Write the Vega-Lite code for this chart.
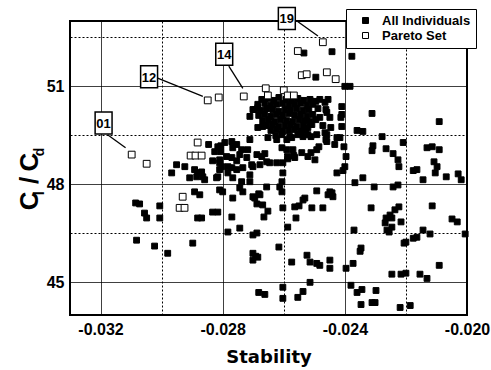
{
  "$schema": "https://vega.github.io/schema/vega-lite/v6.json",
  "width": 397,
  "height": 294,
  "autosize": {"type": "none"},
  "padding": {"left": 70, "top": 21, "right": 24, "bottom": 55},
  "background": "white",
  "datasets": {
    "all": [
      {"stability":-0.02534,"cl_cd":52.02},{"stability":-0.02442,"cl_cd":52.06},{"stability":-0.02377,"cl_cd":51.92},{"stability":-0.02495,"cl_cd":51.28},{"stability":-0.02400,"cl_cd":51.00},{"stability":-0.02383,"cl_cd":51.00},
      {"stability":-0.02311,"cl_cd":50.17},{"stability":-0.02091,"cl_cd":49.92},{"stability":-0.02410,"cl_cd":50.38},{"stability":-0.02410,"cl_cd":50.14},{"stability":-0.02410,"cl_cd":49.77},{"stability":-0.02360,"cl_cd":49.65},{"stability":-0.02341,"cl_cd":49.62},{"stability":-0.02278,"cl_cd":49.46},{"stability":-0.02209,"cl_cd":49.28},{"stability":-0.02416,"cl_cd":49.43},{"stability":-0.02308,"cl_cd":49.18},{"stability":-0.02311,"cl_cd":49.03},{"stability":-0.02265,"cl_cd":49.09},{"stability":-0.02242,"cl_cd":48.94},{"stability":-0.02226,"cl_cd":48.75},{"stability":-0.02223,"cl_cd":48.54},{"stability":-0.02176,"cl_cd":48.42},{"stability":-0.02131,"cl_cd":49.12},{"stability":-0.02114,"cl_cd":49.15},{"stability":-0.02091,"cl_cd":49.06},{"stability":-0.02108,"cl_cd":48.69},{"stability":-0.02098,"cl_cd":48.54},{"stability":-0.02104,"cl_cd":48.35},{"stability":-0.02068,"cl_cd":48.23},{"stability":-0.02029,"cl_cd":48.32},{"stability":-0.02019,"cl_cd":48.14},{"stability":-0.02403,"cl_cd":49.15},{"stability":-0.02396,"cl_cd":48.85},{"stability":-0.02400,"cl_cd":48.54},{"stability":-0.02406,"cl_cd":48.42},{"stability":-0.02426,"cl_cd":48.35},{"stability":-0.02341,"cl_cd":48.20},{"stability":-0.02164,"cl_cd":48.45},{"stability":-0.02144,"cl_cd":48.14},{"stability":-0.02367,"cl_cd":48.05},{"stability":-0.02304,"cl_cd":47.92},{"stability":-0.02242,"cl_cd":47.92},{"stability":-0.02226,"cl_cd":47.98},{"stability":-0.02442,"cl_cd":47.74},{"stability":-0.02439,"cl_cd":47.62},{"stability":-0.02314,"cl_cd":47.28},{"stability":-0.02223,"cl_cd":47.31},{"stability":-0.02236,"cl_cd":47.22},{"stability":-0.02252,"cl_cd":47.06},{"stability":-0.02265,"cl_cd":46.97},{"stability":-0.02246,"cl_cd":46.97},{"stability":-0.02268,"cl_cd":46.82},{"stability":-0.02246,"cl_cd":46.69},{"stability":-0.02262,"cl_cd":46.60},{"stability":-0.02255,"cl_cd":46.54},{"stability":-0.02216,"cl_cd":46.85},{"stability":-0.02114,"cl_cd":47.34},{"stability":-0.02049,"cl_cd":46.94},{"stability":-0.02032,"cl_cd":46.85},{"stability":-0.02370,"cl_cd":46.60},{"stability":-0.02144,"cl_cd":46.60},{"stability":-0.02121,"cl_cd":46.48},{"stability":-0.02164,"cl_cd":46.38},{"stability":-0.02176,"cl_cd":46.35},{"stability":-0.02200,"cl_cd":46.23},{"stability":-0.02206,"cl_cd":46.20},{"stability":-0.02006,"cl_cd":46.48},{"stability":-0.02347,"cl_cd":46.05},{"stability":-0.02350,"cl_cd":45.95},{"stability":-0.02373,"cl_cd":45.58},{"stability":-0.02396,"cl_cd":45.43},{"stability":-0.02091,"cl_cd":45.52},{"stability":-0.02246,"cl_cd":45.25},{"stability":-0.02216,"cl_cd":45.25},{"stability":-0.02200,"cl_cd":45.28},{"stability":-0.02154,"cl_cd":45.25},{"stability":-0.02131,"cl_cd":45.12},{"stability":-0.02380,"cl_cd":44.91},{"stability":-0.02360,"cl_cd":44.69},{"stability":-0.02344,"cl_cd":44.78},{"stability":-0.02298,"cl_cd":44.75},{"stability":-0.02347,"cl_cd":44.32},{"stability":-0.02311,"cl_cd":44.38},{"stability":-0.02301,"cl_cd":44.38},{"stability":-0.02219,"cl_cd":44.23},{"stability":-0.02186,"cl_cd":44.29},
      {"stability":-0.02455,"cl_cd":50.60},{"stability":-0.02462,"cl_cd":50.29},{"stability":-0.02449,"cl_cd":50.05},{"stability":-0.02472,"cl_cd":49.80},{"stability":-0.02446,"cl_cd":49.74},{"stability":-0.02459,"cl_cd":49.52},{"stability":-0.02511,"cl_cd":49.46},{"stability":-0.02462,"cl_cd":49.37},{"stability":-0.02485,"cl_cd":49.15},{"stability":-0.02511,"cl_cd":48.97},{"stability":-0.02541,"cl_cd":48.97},{"stability":-0.02567,"cl_cd":48.88},{"stability":-0.02498,"cl_cd":48.75},{"stability":-0.02603,"cl_cd":48.66},{"stability":-0.02587,"cl_cd":48.78},{"stability":-0.02646,"cl_cd":48.66},{"stability":-0.02662,"cl_cd":48.94},{"stability":-0.02433,"cl_cd":49.22},{"stability":-0.02426,"cl_cd":49.43},{"stability":-0.02413,"cl_cd":50.05},{"stability":-0.02482,"cl_cd":50.60},{"stability":-0.02465,"cl_cd":50.51},{"stability":-0.02459,"cl_cd":50.20},{"stability":-0.02482,"cl_cd":50.05},{"stability":-0.02508,"cl_cd":49.83},{"stability":-0.02492,"cl_cd":49.52},{"stability":-0.02465,"cl_cd":49.58},{"stability":-0.02521,"cl_cd":49.52},{"stability":-0.02574,"cl_cd":49.43},{"stability":-0.02590,"cl_cd":49.37},{"stability":-0.02606,"cl_cd":49.12},{"stability":-0.02587,"cl_cd":48.85},{"stability":-0.02564,"cl_cd":48.82},{"stability":-0.02521,"cl_cd":48.85},{"stability":-0.02492,"cl_cd":49.06},{"stability":-0.02459,"cl_cd":49.31},{"stability":-0.02672,"cl_cd":48.85},{"stability":-0.02656,"cl_cd":48.69},{"stability":-0.02678,"cl_cd":48.60},{"stability":-0.02606,"cl_cd":48.08},{"stability":-0.02606,"cl_cd":47.77},{"stability":-0.02613,"cl_cd":47.92},{"stability":-0.02492,"cl_cd":47.80},{"stability":-0.02449,"cl_cd":47.77},{"stability":-0.02537,"cl_cd":47.52},{"stability":-0.02678,"cl_cd":47.68},{"stability":-0.02603,"cl_cd":48.35},{"stability":-0.02656,"cl_cd":47.92},{"stability":-0.02701,"cl_cd":47.62},{"stability":-0.02682,"cl_cd":47.71},{"stability":-0.02688,"cl_cd":47.40},{"stability":-0.02669,"cl_cd":47.37},{"stability":-0.02652,"cl_cd":47.18},{"stability":-0.02665,"cl_cd":47.00},{"stability":-0.02603,"cl_cd":47.28},{"stability":-0.02564,"cl_cd":47.31},{"stability":-0.02550,"cl_cd":47.34},{"stability":-0.02508,"cl_cd":47.28},{"stability":-0.02472,"cl_cd":47.28},{"stability":-0.02531,"cl_cd":47.58},{"stability":-0.02455,"cl_cd":47.68},{"stability":-0.02560,"cl_cd":46.97},{"stability":-0.02587,"cl_cd":46.69},{"stability":-0.02701,"cl_cd":46.45},{"stability":-0.02688,"cl_cd":46.51},{"stability":-0.02616,"cl_cd":46.08},{"stability":-0.02701,"cl_cd":45.89},{"stability":-0.02701,"cl_cd":45.68},{"stability":-0.02685,"cl_cd":45.77},{"stability":-0.02692,"cl_cd":45.80},{"stability":-0.02574,"cl_cd":45.62},{"stability":-0.02524,"cl_cd":45.83},{"stability":-0.02514,"cl_cd":45.62},{"stability":-0.02492,"cl_cd":45.58},{"stability":-0.02482,"cl_cd":45.52},{"stability":-0.02449,"cl_cd":45.68},{"stability":-0.02449,"cl_cd":45.43},{"stability":-0.02514,"cl_cd":45.00},{"stability":-0.02603,"cl_cd":44.85},{"stability":-0.02603,"cl_cd":44.51},{"stability":-0.02682,"cl_cd":44.69},{"stability":-0.02662,"cl_cd":44.63},{"stability":-0.02554,"cl_cd":44.54},{"stability":-0.02537,"cl_cd":44.72},
      {"stability":-0.02672,"cl_cd":50.60},{"stability":-0.02652,"cl_cd":50.63},{"stability":-0.02633,"cl_cd":50.57},{"stability":-0.02616,"cl_cd":50.66},{"stability":-0.02593,"cl_cd":50.60},{"stability":-0.02574,"cl_cd":50.57},{"stability":-0.02554,"cl_cd":50.63},{"stability":-0.02534,"cl_cd":50.57},{"stability":-0.02514,"cl_cd":50.60},{"stability":-0.02495,"cl_cd":50.54},
      {"stability":-0.02685,"cl_cd":50.45},{"stability":-0.02662,"cl_cd":50.48},{"stability":-0.02642,"cl_cd":50.42},{"stability":-0.02623,"cl_cd":50.45},{"stability":-0.02603,"cl_cd":50.48},{"stability":-0.02583,"cl_cd":50.42},{"stability":-0.02564,"cl_cd":50.45},{"stability":-0.02544,"cl_cd":50.48},{"stability":-0.02524,"cl_cd":50.42},{"stability":-0.02505,"cl_cd":50.45},
      {"stability":-0.02695,"cl_cd":50.29},{"stability":-0.02675,"cl_cd":50.26},{"stability":-0.02656,"cl_cd":50.32},{"stability":-0.02636,"cl_cd":50.29},{"stability":-0.02616,"cl_cd":50.23},{"stability":-0.02596,"cl_cd":50.29},{"stability":-0.02577,"cl_cd":50.26},{"stability":-0.02557,"cl_cd":50.32},{"stability":-0.02537,"cl_cd":50.26},{"stability":-0.02518,"cl_cd":50.29},{"stability":-0.02488,"cl_cd":50.32},
      {"stability":-0.02682,"cl_cd":50.11},{"stability":-0.02662,"cl_cd":50.14},{"stability":-0.02642,"cl_cd":50.08},{"stability":-0.02623,"cl_cd":50.14},{"stability":-0.02603,"cl_cd":50.11},{"stability":-0.02583,"cl_cd":50.17},{"stability":-0.02564,"cl_cd":50.11},{"stability":-0.02544,"cl_cd":50.14},{"stability":-0.02524,"cl_cd":50.08},{"stability":-0.02505,"cl_cd":50.14},
      {"stability":-0.02669,"cl_cd":49.95},{"stability":-0.02649,"cl_cd":49.98},{"stability":-0.02629,"cl_cd":49.92},{"stability":-0.02610,"cl_cd":49.98},{"stability":-0.02590,"cl_cd":49.95},{"stability":-0.02570,"cl_cd":49.92},{"stability":-0.02550,"cl_cd":49.98},{"stability":-0.02531,"cl_cd":49.95},{"stability":-0.02514,"cl_cd":49.92},{"stability":-0.02495,"cl_cd":49.98},
      {"stability":-0.02656,"cl_cd":49.80},{"stability":-0.02636,"cl_cd":49.83},{"stability":-0.02616,"cl_cd":49.77},{"stability":-0.02596,"cl_cd":49.80},{"stability":-0.02577,"cl_cd":49.83},{"stability":-0.02557,"cl_cd":49.77},{"stability":-0.02537,"cl_cd":49.80},{"stability":-0.02521,"cl_cd":49.74},
      {"stability":-0.02642,"cl_cd":49.65},{"stability":-0.02623,"cl_cd":49.68},{"stability":-0.02603,"cl_cd":49.62},{"stability":-0.02583,"cl_cd":49.65},{"stability":-0.02564,"cl_cd":49.68},{"stability":-0.02544,"cl_cd":49.62},{"stability":-0.02528,"cl_cd":49.65},
      {"stability":-0.02626,"cl_cd":49.49},{"stability":-0.02606,"cl_cd":49.52},{"stability":-0.02580,"cl_cd":49.46},{"stability":-0.02554,"cl_cd":49.52},{"stability":-0.02537,"cl_cd":49.46},
      {"stability":-0.02846,"cl_cd":49.22},{"stability":-0.02806,"cl_cd":49.18},{"stability":-0.02806,"cl_cd":49.00},{"stability":-0.02793,"cl_cd":49.28},{"stability":-0.02770,"cl_cd":49.31},{"stability":-0.02754,"cl_cd":49.22},{"stability":-0.02738,"cl_cd":49.06},{"stability":-0.02711,"cl_cd":49.37},{"stability":-0.02718,"cl_cd":49.06},{"stability":-0.02826,"cl_cd":49.00},{"stability":-0.02833,"cl_cd":48.72},{"stability":-0.02810,"cl_cd":48.75},{"stability":-0.02787,"cl_cd":48.85},{"stability":-0.02770,"cl_cd":48.82},{"stability":-0.02754,"cl_cd":48.72},{"stability":-0.02744,"cl_cd":48.91},{"stability":-0.02721,"cl_cd":48.82},{"stability":-0.02705,"cl_cd":48.60},{"stability":-0.02688,"cl_cd":48.91},{"stability":-0.02951,"cl_cd":48.60},{"stability":-0.02967,"cl_cd":48.35},{"stability":-0.02924,"cl_cd":48.54},{"stability":-0.02892,"cl_cd":48.45},{"stability":-0.02882,"cl_cd":48.35},{"stability":-0.02869,"cl_cd":48.38},{"stability":-0.02885,"cl_cd":48.23},{"stability":-0.02865,"cl_cd":48.23},{"stability":-0.02908,"cl_cd":48.20},{"stability":-0.02816,"cl_cd":48.23},{"stability":-0.02810,"cl_cd":48.45},{"stability":-0.02783,"cl_cd":48.54},{"stability":-0.02783,"cl_cd":48.35},{"stability":-0.02754,"cl_cd":48.45},{"stability":-0.02767,"cl_cd":48.20},{"stability":-0.02738,"cl_cd":48.08},{"stability":-0.02734,"cl_cd":48.51},{"stability":-0.02711,"cl_cd":48.29},{"stability":-0.02701,"cl_cd":48.54},{"stability":-0.02810,"cl_cd":47.83},{"stability":-0.02800,"cl_cd":47.77},{"stability":-0.02744,"cl_cd":47.89},{"stability":-0.02734,"cl_cd":47.77},{"stability":-0.02711,"cl_cd":48.08},{"stability":-0.02695,"cl_cd":47.58},{"stability":-0.02892,"cl_cd":47.77},{"stability":-0.02875,"cl_cd":47.68},{"stability":-0.02803,"cl_cd":48.54},{"stability":-0.02770,"cl_cd":48.51},{"stability":-0.02859,"cl_cd":48.14},{"stability":-0.02820,"cl_cd":48.20},{"stability":-0.02767,"cl_cd":47.58},{"stability":-0.02833,"cl_cd":47.15},{"stability":-0.02816,"cl_cd":47.15},{"stability":-0.02869,"cl_cd":46.97},{"stability":-0.02770,"cl_cd":47.00},{"stability":-0.02744,"cl_cd":46.66},{"stability":-0.02783,"cl_cd":46.54},{"stability":-0.02816,"cl_cd":49.15},{"stability":-0.02767,"cl_cd":49.12},{"stability":-0.02711,"cl_cd":50.08},{"stability":-0.02701,"cl_cd":50.29},{"stability":-0.02685,"cl_cd":50.35},{"stability":-0.02810,"cl_cd":48.66},{"stability":-0.02623,"cl_cd":48.66},{"stability":-0.02623,"cl_cd":49.37},{"stability":-0.02570,"cl_cd":49.06},{"stability":-0.02590,"cl_cd":49.06},{"stability":-0.02652,"cl_cd":49.43},{"stability":-0.02669,"cl_cd":49.77},{"stability":-0.02685,"cl_cd":49.74},
      {"stability":-0.03085,"cl_cd":47.43},{"stability":-0.03072,"cl_cd":47.40},{"stability":-0.03056,"cl_cd":47.12},{"stability":-0.03049,"cl_cd":46.97},{"stability":-0.03006,"cl_cd":47.34},{"stability":-0.03006,"cl_cd":46.97},{"stability":-0.02882,"cl_cd":46.97},{"stability":-0.03082,"cl_cd":46.29},{"stability":-0.03023,"cl_cd":46.11},{"stability":-0.02980,"cl_cd":45.89},{"stability":-0.02898,"cl_cd":46.20}
    ],
    "pareto": [
      {"stability":-0.03098,"cl_cd":48.91},{"stability":-0.03049,"cl_cd":48.63},{"stability":-0.02882,"cl_cd":49.28},{"stability":-0.02905,"cl_cd":48.88},{"stability":-0.02889,"cl_cd":48.88},{"stability":-0.02869,"cl_cd":48.88},{"stability":-0.02931,"cl_cd":47.62},{"stability":-0.02941,"cl_cd":47.28},{"stability":-0.02925,"cl_cd":47.28},{"stability":-0.02849,"cl_cd":50.57},{"stability":-0.02813,"cl_cd":50.66},{"stability":-0.02731,"cl_cd":50.69},{"stability":-0.02659,"cl_cd":50.94},{"stability":-0.02652,"cl_cd":50.72},{"stability":-0.02600,"cl_cd":50.88},{"stability":-0.02587,"cl_cd":50.72},{"stability":-0.02567,"cl_cd":50.72},{"stability":-0.02541,"cl_cd":51.34},{"stability":-0.02525,"cl_cd":51.37},{"stability":-0.02459,"cl_cd":51.43},{"stability":-0.02430,"cl_cd":51.22},{"stability":-0.02554,"cl_cd":52.08},{"stability":-0.02472,"cl_cd":52.35}
    ],
    "notes": [
      {"label":"01","lx":-0.0319,"ly":49.88,"sx":-0.03177,"sy":49.52,"ex":-0.03118,"ey":49.12},
      {"label":"12","lx":-0.03041,"ly":51.29,"sx":-0.03013,"sy":51.25,"ex":-0.02865,"ey":50.69},
      {"label":"14","lx":-0.02795,"ly":51.98,"sx":-0.0278,"sy":51.62,"ex":-0.02734,"ey":50.94},
      {"label":"19","lx":-0.0259,"ly":53.08,"sx":-0.02557,"sy":53.0,"ex":-0.02488,"ey":52.54}
    ]
  },
  "layer": [
    {
      "data": {"name": "all"},
      "mark": {"type": "point", "shape": "square", "filled": true, "size": 34, "stroke": "black", "strokeWidth": 1, "opacity": 1},
      "encoding": {
        "x": {
          "field": "stability", "type": "quantitative", "title": "Stability",
          "scale": {"domain": [-0.033, -0.020], "nice": false, "zero": false},
          "axis": {
            "values": [-0.032, -0.030, -0.028, -0.026, -0.024, -0.022, -0.020],
            "labelExpr": "round(datum.value * 1000) % 4 == 0 ? replace(format(datum.value, '.3f'), '\u2212', '-') : ''",
            "gridDash": {"condition": {"test": "round(datum.value * 1000) % 4 == 0", "value": [1, 0]}, "value": [2, 2]}
          }
        },
        "y": {
          "field": "cl_cd", "type": "quantitative",
          "scale": {"domain": [44, 53], "nice": false, "zero": false},
          "axis": {
            "orient": "left",
            "values": [45, 46.5, 48, 49.5, 51, 52.5],
            "labelExpr": "round(datum.value * 2) % 6 == 0 ? format(datum.value, 'd') : ''",
            "gridDash": {"condition": {"test": "round(datum.value * 2) % 6 == 0", "value": [1, 0]}, "value": [2, 2]},
            "title": "C\u2009\u200A/\u2009C\u2002",
            "titleFontSize": 26,
            "titleX": -33,
            "titleY": 160,
            "titleAngle": -90,
            "titleAlign": "center",
            "titleBaseline": "alphabetic"
          }
        },
        "fill": {
          "datum": "All Individuals", "type": "nominal",
          "scale": {"domain": ["All Individuals", "Pareto Set"], "range": ["black", "white"]},
          "legend": {
            "orient": "none", "legendX": 276, "legendY": -12, "title": null,
            "symbolType": "square", "symbolSize": 36,
            "symbolStrokeColor": "black", "symbolStrokeWidth": 1,
            "labelFont": "Liberation Sans", "labelFontSize": 13, "labelFontWeight": "bold", "labelColor": "black",
            "padding": 5, "symbolOffset": 8, "labelOffset": 10, "rowPadding": 1,
            "strokeColor": "black", "fillColor": "white"
          }
        }
      }
    },
    {
      "data": {"name": "pareto"},
      "mark": {"type": "point", "shape": "square", "filled": true, "size": 46, "stroke": "black", "strokeWidth": 1, "opacity": 1},
      "encoding": {
        "x": {"field": "stability", "type": "quantitative", "title": "Stability"},
        "y": {"field": "cl_cd", "type": "quantitative", "axis": null},
        "fill": {"datum": "Pareto Set", "type": "nominal"}
      }
    },
    {
      "data": {"name": "notes"},
      "mark": {"type": "rule", "color": "black", "strokeWidth": 1.3},
      "encoding": {
        "x": {"field": "sx", "type": "quantitative", "title": "Stability"},
        "x2": {"field": "ex"},
        "y": {
          "field": "sy", "type": "quantitative",
          "axis": {
            "orient": "left", "labels": false, "ticks": false, "domain": false, "grid": false,
            "title": "l\u2003\u2003\u2002d", "titleFontSize": 14,
            "titleX": -27, "titleY": 150, "titleAngle": -90,
            "titleAlign": "center", "titleBaseline": "alphabetic"
          }
        },
        "y2": {"field": "ey"}
      }
    },
    {
      "data": {"name": "notes"},
      "mark": {"type": "point", "shape": "M-0.77,-1H0.77V1H-0.77Z", "size": 484, "filled": true, "fill": "white", "stroke": "black", "strokeWidth": 1.5, "opacity": 1},
      "encoding": {
        "x": {"field": "lx", "type": "quantitative", "title": "Stability"},
        "y": {"field": "ly", "type": "quantitative", "axis": null}
      }
    },
    {
      "data": {"name": "notes"},
      "mark": {"type": "text", "font": "Liberation Sans", "fontSize": 13, "fontWeight": "bold", "color": "black", "align": "center", "baseline": "middle", "dy": 1},
      "encoding": {
        "x": {"field": "lx", "type": "quantitative", "title": "Stability"},
        "y": {"field": "ly", "type": "quantitative", "axis": null},
        "text": {"field": "label"}
      }
    }
  ],
  "resolve": {"axis": {"y": "independent"}},
  "config": {
    "view": {"stroke": "black", "strokeWidth": 2},
    "axis": {
      "grid": true, "gridColor": "black", "gridWidth": 1, "gridOpacity": 1,
      "ticks": false, "domain": false,
      "labelFont": "Liberation Sans", "labelFontSize": 16, "labelFontWeight": "bold", "labelColor": "black",
      "labelFlush": false, "labelOverlap": false, "labelPadding": 6,
      "titleFont": "Liberation Sans", "titleFontWeight": "bold", "titleColor": "black"
    },
    "axisX": {
      "titleFont": "DejaVu Sans", "titleFontSize": 18, "titleBaseline": "alphabetic", "titleY": 47
    }
  }
}
